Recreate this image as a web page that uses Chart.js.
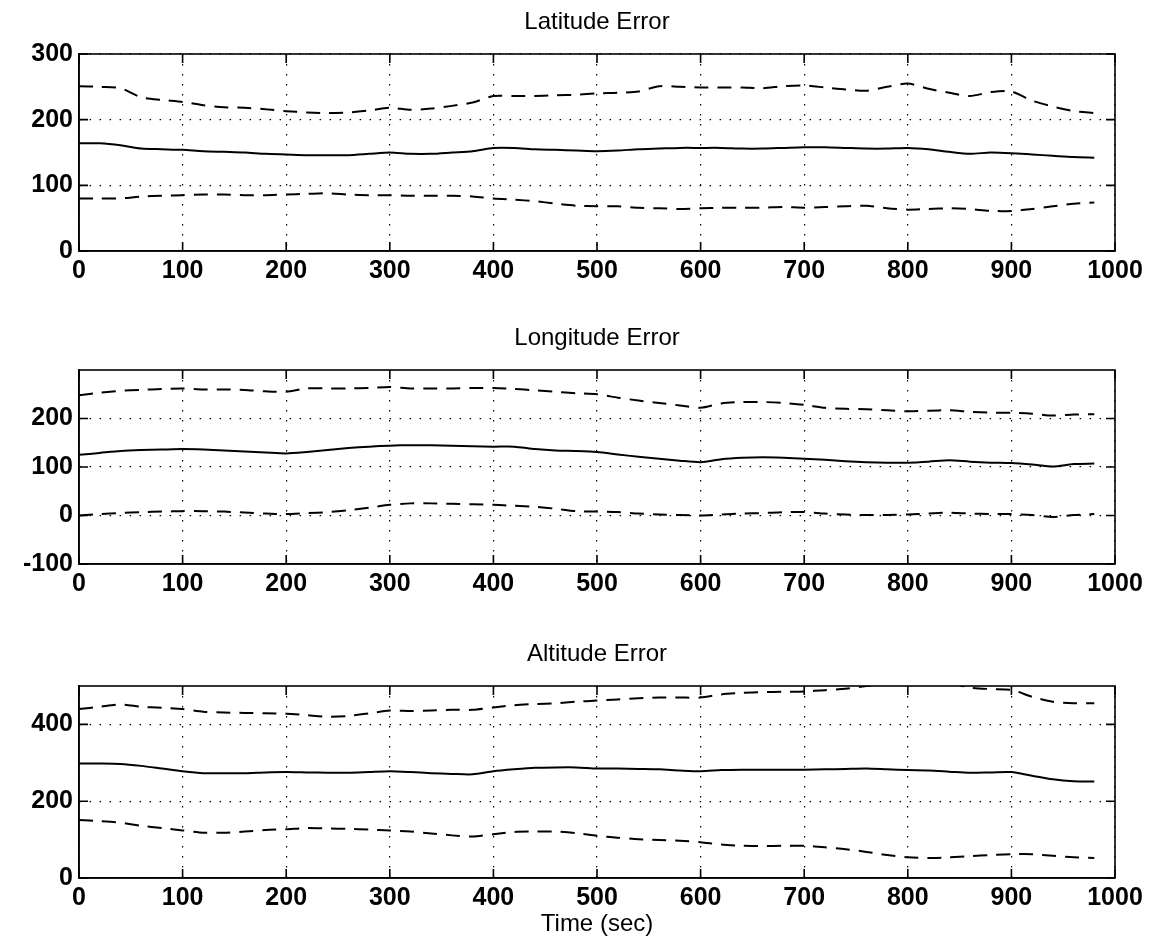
<!DOCTYPE html>
<html>
<head>
<meta charset="utf-8">
<script src="https://cdn.jsdelivr.net/npm/chart.js@4.4.0/dist/chart.umd.min.js"></script>
<style>
  html, body { margin: 0; padding: 0; background: #fff; overflow: hidden; width: 1153px; height: 947px; }
  .panel { position: absolute; left: 0; width: 1153px; }
</style>
</head>
<body>
<div class="panel" style="top:12px;height:279px"><canvas id="latChart"></canvas></div>
<div class="panel" style="top:328px;height:276px"><canvas id="lonChart"></canvas></div>
<div class="panel" style="top:644px;height:303px"><canvas id="altChart"></canvas></div>
<script>
// time axis (sec)
const time = [0, 20, 40, 60, 80, 100, 120, 140, 160, 180, 200, 220, 240, 260, 280, 300, 320, 340, 360, 380,
  400, 420, 440, 460, 480, 500, 520, 540, 560, 580, 600, 620, 640, 660, 680, 700, 720, 740, 760, 780,
  800, 820, 840, 860, 880, 900, 920, 940, 960, 980];
const xTicks = [0, 100, 200, 300, 400, 500, 600, 700, 800, 900, 1000];

// Latitude error
const latUpper = [251, 250, 248, 234, 230, 227, 222, 219, 218, 216, 213, 211, 210, 211, 214, 218, 215, 217, 221, 226,
  236, 236, 236, 237, 238, 240, 241, 243, 251, 250, 249, 249, 249, 248, 251, 252, 249, 246, 244, 250,
  255, 247, 241, 236, 242, 243, 229, 220, 213, 210];
const latMean = [164, 164, 161, 156, 155, 154, 152, 151, 150, 148, 147, 146, 146, 146, 148, 150, 148, 148, 150, 152,
  157, 157, 155, 154, 153, 152, 153, 155, 156, 157, 157, 157, 156, 156, 157, 158, 158, 157, 156, 156,
  157, 155, 151, 148, 150, 149, 147, 145, 143, 142];
const latLower = [80, 80, 80, 83, 84, 85, 86, 86, 85, 85, 86, 87, 88, 86, 85, 85, 84, 84, 84, 83,
  80, 78, 76, 72, 69, 68, 68, 66, 65, 64, 65, 66, 66, 66, 67, 66, 67, 68, 69, 65,
  63, 64, 65, 64, 61, 61, 64, 68, 72, 74];

// Longitude error
const lonUpper = [248, 253, 257, 259, 261, 262, 260, 260, 259, 256, 255, 262, 262, 262, 263, 265, 262, 262, 262, 263,
  263, 261, 258, 255, 252, 250, 243, 237, 232, 227, 222, 231, 234, 234, 232, 228, 222, 220, 219, 217,
  215, 216, 217, 214, 212, 212, 210, 206, 208, 209];
const lonMean = [125, 129, 133, 135, 136, 137, 136, 134, 132, 130, 128, 131, 135, 139, 142, 144, 145, 145, 144, 143,
  142, 142, 137, 134, 133, 131, 126, 121, 117, 113, 110, 116, 119, 120, 119, 117, 115, 112, 110, 109,
  109, 111, 114, 111, 109, 108, 105, 101, 106, 107];
const lonLower = [0, 3, 5, 7, 8, 9, 9, 8, 6, 4, 3, 5, 7, 11, 16, 22, 25, 25, 24, 23,
  22, 20, 18, 14, 9, 8, 7, 4, 2, 1, 0, 2, 4, 5, 7, 7, 4, 2, 1, 1,
  2, 4, 6, 4, 3, 3, 1, -3, 1, 3];

// Altitude error
const altUpper = [440, 446, 452, 446, 443, 440, 433, 431, 430, 429, 428, 424, 420, 422, 429, 436, 435, 436, 438, 438,
  444, 450, 453, 455, 459, 462, 465, 468, 470, 470, 470, 478, 482, 484, 485, 486, 489, 493, 500, 506,
  510, 512, 508, 496, 492, 490, 472, 459, 455, 455];
const altMean = [298, 298, 297, 292, 285, 278, 273, 273, 273, 275, 276, 275, 274, 274, 276, 278, 276, 273, 271, 270,
  278, 283, 287, 288, 288, 285, 285, 284, 283, 280, 278, 281, 282, 282, 282, 282, 283, 284, 285, 283,
  281, 280, 277, 274, 275, 276, 266, 257, 252, 251];
const altLower = [151, 148, 144, 136, 130, 124, 118, 118, 121, 125, 127, 130, 129, 128, 126, 124, 121, 116, 111, 108,
  114, 120, 121, 121, 117, 110, 105, 101, 99, 97, 93, 87, 84, 83, 84, 84, 80, 75, 68, 60,
  54, 52, 54, 57, 60, 62, 62, 58, 54, 52];

const titles = ['Latitude Error', 'Longitude Error', 'Altitude Error'];
const yTicksLat = [0, 100, 200, 300];
const yTicksLon = [-100, 0, 100, 200];
const yTicksAlt = [0, 200, 400];
const xTitle = 'Time (sec)';

const FONT = '"Liberation Sans", Arial, Helvetica, sans-serif';

// box around the plot, inward tick marks and the title centred on the plot (matlab style)
const boxPlugin = {
  id: 'box',
  afterDatasetsDraw(chart) {
    const {ctx, chartArea: a, scales: {x, y}} = chart;
    ctx.save();
    ctx.strokeStyle = '#000';
    ctx.lineWidth = 1.6;
    ctx.strokeRect(a.left, a.top, a.right - a.left, a.bottom - a.top);
    ctx.beginPath();
    x.ticks.forEach(t => {
      const px = x.getPixelForValue(t.value);
      ctx.moveTo(px, a.bottom); ctx.lineTo(px, a.bottom - 9);
      ctx.moveTo(px, a.top); ctx.lineTo(px, a.top + 9);
    });
    y.ticks.forEach(t => {
      const py = y.getPixelForValue(t.value);
      ctx.moveTo(a.left, py); ctx.lineTo(a.left + 9, py);
      ctx.moveTo(a.right, py); ctx.lineTo(a.right - 9, py);
    });
    ctx.stroke();
    const title = chart.options.plugins.box.text;
    ctx.fillStyle = '#000';
    ctx.font = '24px ' + FONT;
    ctx.textAlign = 'center';
    ctx.textBaseline = 'middle';
    ctx.fillText(title, (a.left + a.right) / 2, a.top - 32);
    ctx.restore();
  }
};

function pts(vals) {
  return vals.map((v, i) => ({x: time[i], y: v}));
}

function makePanel(id, title, upper, mean, lower, yMin, yMax, yTicks, withXTitle) {
  const line = (vals, dashed) => ({
    data: pts(vals),
    borderColor: '#000',
    borderWidth: 2,
    borderDash: dashed ? [14, 9] : [],
    pointRadius: 0,
    tension: 0.25,
    fill: false
  });
  return new Chart(document.getElementById(id), {
    type: 'line',
    data: { datasets: [line(upper, true), line(mean, false), line(lower, true)] },
    plugins: [boxPlugin],
    options: {
      responsive: true,
      maintainAspectRatio: false,
      animation: false,
      layout: { padding: { top: 42, left: 0, right: 38, bottom: 0 } },
      plugins: {
        legend: { display: false },
        tooltip: { enabled: false },
        title: { display: false },
        box: { text: title }
      },
      scales: {
        x: {
          type: 'linear',
          min: 0, max: 1000,
          afterBuildTicks: s => { s.ticks = xTicks.map(v => ({value: v})); },
          afterFit: s => { s.height = withXTitle ? 69 : 40; },
          ticks: { color: '#000', font: { family: FONT, size: 25, weight: 'bold' }, padding: 5, maxRotation: 0,
                   callback: v => String(v) },
          grid: { color: '#000', lineWidth: 1.2, drawTicks: false },
          border: { display: true, color: '#000', width: 1.6, dash: [1.5, 8.5] },
          title: {
            display: withXTitle,
            text: xTitle,
            color: '#000',
            font: { family: FONT, size: 24, weight: 'normal', lineHeight: 1.2 },
            padding: { top: 0, bottom: 8 }
          }
        },
        y: {
          type: 'linear',
          min: yMin, max: yMax,
          afterBuildTicks: s => { s.ticks = yTicks.map(v => ({value: v})); },
          afterFit: s => { s.width = 79; },
          ticks: { color: '#000', font: { family: FONT, size: 25, weight: 'bold' }, padding: 6,
                   callback: v => String(v) },
          grid: { color: '#000', lineWidth: 1.2, drawTicks: false },
          border: { display: true, color: '#000', width: 1.6, dash: [1.5, 8.5] }
        }
      }
    }
  });
}

makePanel('latChart', titles[0], latUpper, latMean, latLower, 0, 300, yTicksLat, false);
makePanel('lonChart', titles[1], lonUpper, lonMean, lonLower, -100, 300, yTicksLon, false);
makePanel('altChart', titles[2], altUpper, altMean, altLower, 0, 500, yTicksAlt, true);
</script>
</body>
</html>
